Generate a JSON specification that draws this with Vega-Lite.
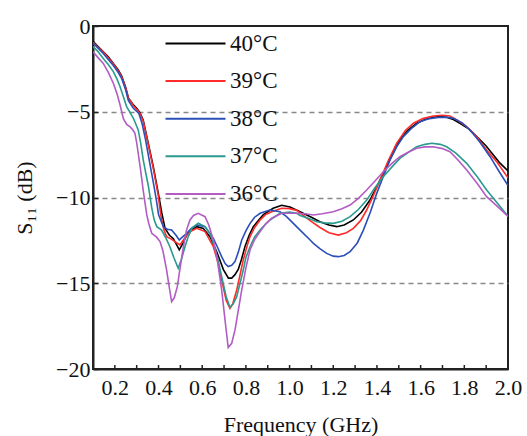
{
"$schema":"https://vega.github.io/schema/vega-lite/v6.json",
"width":415,"height":343,
"autosize":"none",
"padding":{"left":93,"top":26,"right":19,"bottom":67},
"background":"white",
"config":{"view":{"stroke":"#222","strokeWidth":2},"font":"Liberation Serif"},
"datasets":{
"xt":[{"f":0.2},{"f":0.3},{"f":0.4},{"f":0.5},{"f":0.6},{"f":0.7},{"f":0.8},{"f":0.9},{"f":1.0},{"f":1.1},{"f":1.2},{"f":1.3},{"f":1.4},{"f":1.5},{"f":1.6},{"f":1.7},{"f":1.8},{"f":1.9}],
"c40":[[0.10,-0.90],[0.12,-1.15],[0.147,-1.50],[0.17,-1.80],[0.193,-2.18],[0.215,-2.55],[0.231,-2.90],[0.25,-3.60],[0.262,-4.20],[0.285,-4.60],[0.30,-4.80],[0.315,-5.05],[0.33,-5.50],[0.353,-6.85],[0.376,-8.20],[0.399,-9.76],[0.415,-10.90],[0.43,-11.80],[0.45,-12.20],[0.468,-12.40],[0.485,-12.80],[0.495,-13.05],[0.51,-12.70],[0.529,-12.20],[0.55,-11.90],[0.575,-11.70],[0.605,-11.80],[0.636,-12.30],[0.666,-13.15],[0.697,-14.20],[0.72,-14.70],[0.735,-14.70],[0.75,-14.50],[0.765,-14.20],[0.78,-13.60],[0.796,-12.85],[0.815,-12.20],[0.834,-11.70],[0.86,-11.30],[0.88,-11.00],[0.925,-10.63],[0.964,-10.45],[1.002,-10.55],[1.048,-10.83],[1.10,-11.15],[1.139,-11.41],[1.18,-11.60],[1.216,-11.70],[1.25,-11.60],[1.292,-11.31],[1.33,-10.85],[1.368,-10.15],[1.40,-9.35],[1.429,-8.59],[1.47,-7.50],[1.505,-6.65],[1.54,-6.10],[1.582,-5.67],[1.62,-5.45],[1.658,-5.32],[1.69,-5.28],[1.719,-5.32],[1.75,-5.45],[1.78,-5.67],[1.82,-6.00],[1.857,-6.45],[1.90,-7.00],[1.933,-7.52],[1.96,-7.95],[2.00,-8.45]],
"c39":[[0.10,-0.95],[0.12,-1.20],[0.147,-1.52],[0.17,-1.85],[0.193,-2.22],[0.215,-2.60],[0.231,-2.95],[0.25,-3.65],[0.262,-4.20],[0.285,-4.65],[0.30,-4.85],[0.315,-5.10],[0.33,-5.55],[0.353,-6.90],[0.376,-8.30],[0.399,-9.90],[0.41,-11.00],[0.425,-11.90],[0.437,-12.28],[0.455,-12.40],[0.475,-12.57],[0.498,-12.77],[0.51,-12.55],[0.529,-12.19],[0.55,-11.95],[0.575,-11.80],[0.613,-11.99],[0.651,-12.87],[0.67,-13.70],[0.689,-14.80],[0.71,-16.00],[0.727,-16.46],[0.74,-16.20],[0.758,-15.39],[0.775,-14.40],[0.788,-13.64],[0.805,-12.85],[0.819,-12.28],[0.84,-11.75],[0.865,-11.31],[0.89,-11.00],[0.918,-10.83],[0.964,-10.63],[1.00,-10.65],[1.033,-10.75],[1.048,-10.90],[1.094,-11.35],[1.139,-11.75],[1.18,-12.05],[1.223,-12.19],[1.26,-12.05],[1.292,-11.80],[1.325,-11.35],[1.353,-10.73],[1.385,-9.85],[1.414,-8.98],[1.45,-7.90],[1.49,-6.84],[1.53,-6.10],[1.567,-5.67],[1.61,-5.40],[1.658,-5.25],[1.70,-5.20],[1.734,-5.25],[1.77,-5.50],[1.811,-5.87],[1.86,-6.50],[1.902,-7.23],[1.95,-7.95],[2.00,-8.85]],
"c38":[[0.10,-1.00],[0.12,-1.25],[0.147,-1.60],[0.17,-1.95],[0.193,-2.30],[0.215,-2.70],[0.231,-3.05],[0.25,-3.75],[0.262,-4.35],[0.285,-4.80],[0.31,-5.10],[0.325,-5.70],[0.34,-6.60],[0.36,-8.00],[0.38,-9.40],[0.392,-10.30],[0.40,-11.00],[0.422,-11.70],[0.44,-11.85],[0.46,-11.90],[0.48,-12.20],[0.495,-12.48],[0.51,-12.30],[0.529,-12.09],[0.55,-11.80],[0.575,-11.60],[0.613,-11.70],[0.651,-12.38],[0.67,-12.90],[0.689,-13.45],[0.705,-13.85],[0.719,-14.03],[0.735,-13.95],[0.75,-13.74],[0.765,-13.20],[0.781,-12.48],[0.80,-11.95],[0.819,-11.51],[0.84,-11.15],[0.865,-10.92],[0.91,-10.73],[0.956,-10.83],[0.985,-11.10],[1.017,-11.51],[1.048,-11.90],[1.094,-12.48],[1.109,-12.67],[1.14,-13.00],[1.17,-13.26],[1.20,-13.42],[1.223,-13.45],[1.25,-13.38],[1.277,-13.16],[1.31,-12.65],[1.338,-11.90],[1.37,-10.85],[1.399,-9.76],[1.43,-8.75],[1.46,-7.81],[1.49,-7.05],[1.521,-6.45],[1.56,-5.95],[1.597,-5.58],[1.64,-5.40],[1.689,-5.32],[1.72,-5.33],[1.75,-5.38],[1.79,-5.65],[1.826,-6.06],[1.87,-6.75],[1.918,-7.62],[1.96,-8.50],[2.00,-9.30]],
"c37":[[0.10,-1.20],[0.12,-1.45],[0.147,-1.89],[0.17,-2.25],[0.193,-2.66],[0.21,-3.10],[0.224,-3.54],[0.24,-4.15],[0.254,-4.70],[0.27,-5.05],[0.285,-5.38],[0.307,-6.06],[0.318,-6.80],[0.33,-7.81],[0.342,-8.60],[0.353,-9.30],[0.369,-10.60],[0.38,-11.30],[0.392,-11.70],[0.414,-11.90],[0.435,-12.40],[0.452,-12.87],[0.47,-13.50],[0.49,-14.13],[0.505,-13.60],[0.521,-12.87],[0.537,-12.25],[0.552,-11.80],[0.582,-11.50],[0.613,-11.70],[0.635,-12.10],[0.651,-12.67],[0.67,-13.50],[0.689,-14.62],[0.71,-15.80],[0.727,-16.40],[0.742,-16.20],[0.758,-15.78],[0.773,-15.00],[0.788,-14.23],[0.80,-13.50],[0.819,-12.87],[0.84,-12.30],[0.865,-11.90],[0.89,-11.55],[0.91,-11.31],[0.956,-10.92],[1.00,-10.85],[1.033,-10.92],[1.048,-11.05],[1.094,-11.25],[1.124,-11.41],[1.16,-11.48],[1.20,-11.51],[1.24,-11.38],[1.277,-11.12],[1.315,-10.70],[1.353,-10.15],[1.39,-9.45],[1.429,-8.79],[1.47,-8.20],[1.505,-7.72],[1.545,-7.35],[1.582,-7.04],[1.62,-6.90],[1.651,-6.84],[1.69,-6.90],[1.719,-7.04],[1.76,-7.40],[1.811,-8.01],[1.86,-8.80],[1.902,-9.56],[1.95,-10.30],[2.00,-11.10]],
"c36":[[0.10,-1.50],[0.12,-1.80],[0.147,-2.18],[0.17,-2.70],[0.193,-3.34],[0.21,-3.95],[0.224,-4.61],[0.239,-5.40],[0.255,-5.75],[0.269,-5.87],[0.282,-6.05],[0.292,-6.26],[0.30,-6.80],[0.307,-7.42],[0.318,-8.40],[0.33,-9.60],[0.346,-11.00],[0.355,-11.50],[0.369,-12.09],[0.39,-12.30],[0.407,-12.57],[0.42,-13.10],[0.437,-14.23],[0.45,-15.30],[0.46,-16.07],[0.472,-15.85],[0.486,-15.20],[0.50,-14.00],[0.514,-12.87],[0.528,-11.90],[0.544,-11.31],[0.56,-11.05],[0.582,-10.92],[0.613,-11.12],[0.63,-11.60],[0.651,-12.48],[0.67,-13.70],[0.689,-15.39],[0.705,-17.20],[0.719,-18.75],[0.735,-18.50],[0.75,-17.73],[0.765,-16.60],[0.781,-15.39],[0.80,-14.10],[0.819,-13.06],[0.84,-12.45],[0.865,-11.99],[0.89,-11.55],[0.918,-11.21],[0.964,-10.92],[1.033,-10.92],[1.07,-10.95],[1.109,-11.02],[1.15,-10.95],[1.20,-10.83],[1.24,-10.65],[1.277,-10.44],[1.315,-10.05],[1.353,-9.56],[1.39,-9.05],[1.429,-8.50],[1.47,-8.00],[1.505,-7.62],[1.545,-7.35],[1.582,-7.13],[1.62,-7.05],[1.658,-7.04],[1.70,-7.15],[1.734,-7.33],[1.77,-7.80],[1.811,-8.40],[1.86,-9.20],[1.902,-9.95],[1.95,-10.50],[2.00,-11.10]]
},
"layer":[
{"data":{"name":"xt"},"mark":{"type":"tick","orient":"vertical","size":8,"thickness":1.5,"color":"#222","opacity":1,"clip":true},
 "encoding":{"x":{"field":"f","type":"quantitative"},"y":{"datum":-20,"type":"quantitative"}}},
{"data":{"name":"c40"},"transform":[{"calculate":"datum[0]","as":"f"},{"calculate":"datum[1]","as":"s"},{"calculate":"'40°C'","as":"t"}],"mark":{"type":"line","strokeWidth":1.6,"clip":true},
 "encoding":{"x":{"field":"f","type":"quantitative"},"y":{"field":"s","type":"quantitative"},"color":{"field":"t","type":"nominal"}}},
{"data":{"name":"c39"},"transform":[{"calculate":"datum[0]","as":"f"},{"calculate":"datum[1]","as":"s"},{"calculate":"'39°C'","as":"t"}],"mark":{"type":"line","strokeWidth":1.6,"clip":true},
 "encoding":{"x":{"field":"f","type":"quantitative"},"y":{"field":"s","type":"quantitative"},"color":{"field":"t","type":"nominal"}}},
{"data":{"name":"c38"},"transform":[{"calculate":"datum[0]","as":"f"},{"calculate":"datum[1]","as":"s"},{"calculate":"'38°C'","as":"t"}],"mark":{"type":"line","strokeWidth":1.6,"clip":true},
 "encoding":{"x":{"field":"f","type":"quantitative"},"y":{"field":"s","type":"quantitative"},"color":{"field":"t","type":"nominal"}}},
{"data":{"name":"c37"},"transform":[{"calculate":"datum[0]","as":"f"},{"calculate":"datum[1]","as":"s"},{"calculate":"'37°C'","as":"t"}],"mark":{"type":"line","strokeWidth":1.6,"clip":true},
 "encoding":{"x":{"field":"f","type":"quantitative"},"y":{"field":"s","type":"quantitative"},"color":{"field":"t","type":"nominal"}}},
{"data":{"name":"c36"},"transform":[{"calculate":"datum[0]","as":"f"},{"calculate":"datum[1]","as":"s"},{"calculate":"'36°C'","as":"t"}],"mark":{"type":"line","strokeWidth":1.6,"clip":true},
 "encoding":{"x":{"field":"f","type":"quantitative","scale":{"domain":[0.1,2.0],"nice":false,"zero":false},
   "axis":{"title":"Frequency (GHz)","values":[0.2,0.4,0.6,0.8,1.0,1.2,1.4,1.6,1.8,2.0],
     "format":".1f","labelOverlap":false,"labelFlush":false,
     "labelFont":"Liberation Serif","labelFontSize":22,"labelColor":"#111","labelPadding":4,
     "titleFont":"Liberation Serif","titleFontSize":22,"titleFontWeight":"normal","titleColor":"#111","titlePadding":16,
     "tickSize":4,"tickOpacity":0,"domainColor":"#222","domainWidth":2,"grid":false}},
  "y":{"field":"s","type":"quantitative","scale":{"domain":[-20,0],"nice":false,"zero":false},
   "axis":{"title":"S₁₁ (dB)","values":[-20,-15,-10,-5,0],"labelOverlap":false,"labelFlush":false,
     "labelFont":"Liberation Serif","labelFontSize":22,"labelColor":"#111","labelPadding":8,
     "titleFont":"Liberation Serif","titleFontSize":22,"titleFontWeight":"normal","titleColor":"#111","titlePadding":19,
     "tickSize":-5,"tickColor":"#222","tickWidth":1.5,"domainColor":"#222","domainWidth":2,
     "grid":true,"gridColor":"#888","gridDash":[5,4],"gridWidth":1.5,
     "gridOpacity":{"condition":{"test":"datum.value == 0 || datum.value == -20","value":0},"value":1}}},
  "color":{"field":"t","type":"nominal",
   "scale":{"domain":["40°C","39°C","38°C","37°C","36°C"],"range":["#000000","#ff2a2a","#2a4fb8","#2a9a8e","#b25cc4"]},
   "legend":{"title":null,"orient":"none","legendX":71,"legendY":6,"padding":0,
     "symbolType":"M-1,0H5","symbolSize":400,"symbolStrokeWidth":2,"symbolOffset":0,
     "labelFont":"Liberation Serif","labelFontSize":23,"labelColor":"#111","labelOffset":43,"rowPadding":13.6}}}}
]
}
